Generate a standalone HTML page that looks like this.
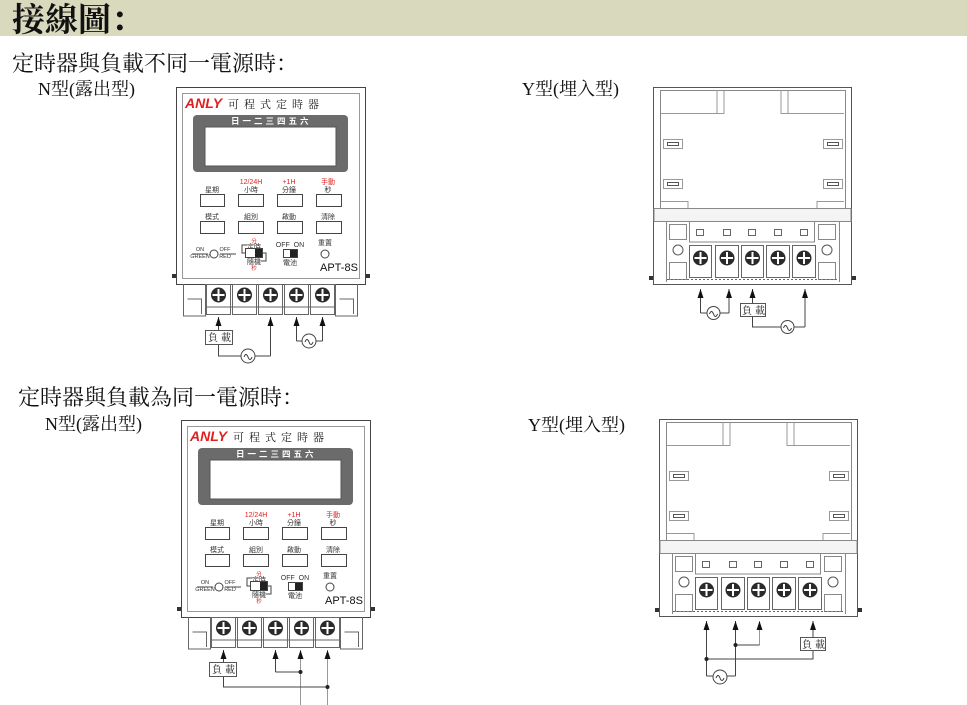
<!DOCTYPE html>
<html><head><meta charset="utf-8"><style>
html,body{margin:0;padding:0;background:#fff;width:967px;height:705px;overflow:hidden}
svg{display:block}
.s{font-family:"Liberation Serif","Noto Serif CJK SC","Noto Sans CJK TC",serif}
.c{font-family:"Noto Serif CJK SC","Noto Sans CJK TC",serif}
.k{font-family:"Liberation Sans","Noto Sans CJK TC",sans-serif}
</style></head><body>
<svg width="967" height="705" viewBox="0 0 967 705" xmlns="http://www.w3.org/2000/svg">
<rect x="0" y="0" width="967" height="36" fill="#d9d9bd"/>
<text x="12" y="31" class="c" font-size="33" font-weight="bold" fill="#111">接線圖：</text>
<text x="12" y="71" class="c" font-size="22" fill="#111">定時器與負載不同一電源時：</text>
<text x="38" y="95" class="s" font-size="18" fill="#111">N型(露出型)</text>
<text x="522" y="95" class="s" font-size="18" fill="#111">Y型(埋入型)</text>
<text x="18" y="405" class="c" font-size="22" fill="#111">定時器與負載為同一電源時：</text>
<text x="45" y="430" class="s" font-size="18" fill="#111">N型(露出型)</text>
<text x="528" y="431" class="s" font-size="18" fill="#111">Y型(埋入型)</text>

<!-- N device top -->
<g fill="none" stroke="#444" stroke-width="1">
<rect x="176.5" y="87.5" width="189" height="197" fill="#fff"/>
<rect x="182.5" y="93.5" width="177" height="185" stroke="#999"/>
<rect x="172" y="274" width="4" height="4" fill="#333" stroke="none"/>
<rect x="366" y="274" width="4" height="4" fill="#333" stroke="none"/>
<text x="185" y="108" class="k" font-size="14" font-weight="bold" font-style="italic" fill="#e02020" stroke="none">ANLY</text>
<text x="228" y="108" class="s" font-size="11" fill="#222" stroke="none" letter-spacing="5">可程式定時器</text>
<rect x="193" y="115" width="155" height="57" rx="4" fill="#6b6b6b" stroke="none"/>
<text x="231" y="124" class="k" font-size="8.5" font-weight="bold" fill="#fff" stroke="none" letter-spacing="3">日一二三四五六</text>
<rect x="205" y="127" width="131" height="39" fill="#fff" stroke="#555"/>
<g class="k" font-size="7" stroke="none" text-anchor="middle">
<text x="251" y="184" fill="#e02020">12/24H</text><text x="289" y="184" fill="#e02020">+1H</text><text x="328" y="184" fill="#e02020">手動</text>
<text x="212" y="192" fill="#333">星期</text><text x="251" y="192" fill="#333">小時</text><text x="289" y="192" fill="#333">分鐘</text><text x="328" y="192" fill="#333">秒</text>
<text x="212" y="219" fill="#333">模式</text><text x="251" y="219" fill="#333">組別</text><text x="289" y="219" fill="#333">啟動</text><text x="328" y="219" fill="#333">清除</text>
<text x="200" y="251" font-size="5.5" fill="#333">ON</text><text x="200" y="258" font-size="5.5" fill="#333">GREEN</text>
<text x="225" y="251" font-size="5.5" fill="#333">OFF</text><text x="225" y="258" font-size="5.5" fill="#333">RED</text>
<text x="254" y="243" font-size="5.5" fill="#e02020">分</text><text x="254" y="249" fill="#333">定時</text>
<text x="254" y="264" fill="#333">隨機</text><text x="254" y="270" font-size="5.5" fill="#e02020">秒</text>
<text x="290" y="247" fill="#333">OFF&#160;&#160;ON</text><text x="290" y="265" fill="#333">電池</text>
<text x="325" y="245" fill="#333">重置</text>
</g>
<rect x="200.5" y="194.5" width="24" height="12"/><rect x="238.5" y="194.5" width="25" height="12"/><rect x="277.5" y="194.5" width="25" height="12"/><rect x="316.5" y="194.5" width="25" height="12"/>
<rect x="200.5" y="221.5" width="24" height="12"/><rect x="238.5" y="221.5" width="25" height="12"/><rect x="277.5" y="221.5" width="25" height="12"/><rect x="316.5" y="221.5" width="25" height="12"/>
<line x1="192" y1="254" x2="208" y2="254"/><circle cx="214" cy="254" r="4"/><line x1="220" y1="254" x2="236" y2="254"/>
<rect x="245.5" y="248.5" width="17" height="9" fill="#fff"/><rect x="255" y="249" width="7" height="8" fill="#222" stroke="none"/>
<path d="M246 253 h-4 v-8 h5 M262 253 h4 v8 h-5"/>
<rect x="283.5" y="249.5" width="14" height="8" fill="#fff"/><rect x="290" y="250" width="7" height="7" fill="#222" stroke="none"/>
<circle cx="325" cy="254" r="4"/>
<text x="320" y="271" class="k" font-size="11" fill="#111" stroke="none">APT-8S</text>
<path d="M183.5 284 v32 h22 v-32 M335.5 284 v32 h22 v-32 M187.5 299 h14 v15 M339.5 299 h14 v15" stroke="#666"/>
<g stroke="#666">
<rect x="206.5" y="284.5" width="24" height="30"/><rect x="232.5" y="284.5" width="24" height="30"/><rect x="258.5" y="284.5" width="24" height="30"/><rect x="284.5" y="284.5" width="24" height="30"/><rect x="310.5" y="284.5" width="24" height="30"/>
<line x1="206" y1="307" x2="335" y2="307"/>
</g>
<g stroke="none" fill="#2a2a2a"><circle cx="218.5" cy="295" r="7.5"/><circle cx="244.5" cy="295" r="7.5"/><circle cx="270.5" cy="295" r="7.5"/><circle cx="296.5" cy="295" r="7.5"/><circle cx="322.5" cy="295" r="7.5"/></g>
<g stroke="#fff" stroke-width="2"><path d="M218.5 289v12M212.5 295h12M244.5 289v12M238.5 295h12M270.5 289v12M264.5 295h12M296.5 289v12M290.5 295h12M322.5 289v12M316.5 295h12"/></g>
</g>

<!-- N device bottom -->
<g transform="translate(5,333)" fill="none" stroke="#444" stroke-width="1">
<rect x="176.5" y="87.5" width="189" height="197" fill="#fff"/>
<rect x="182.5" y="93.5" width="177" height="185" stroke="#999"/>
<rect x="172" y="274" width="4" height="4" fill="#333" stroke="none"/>
<rect x="366" y="274" width="4" height="4" fill="#333" stroke="none"/>
<text x="185" y="108" class="k" font-size="14" font-weight="bold" font-style="italic" fill="#e02020" stroke="none">ANLY</text>
<text x="228" y="108" class="s" font-size="11" fill="#222" stroke="none" letter-spacing="5">可程式定時器</text>
<rect x="193" y="115" width="155" height="57" rx="4" fill="#6b6b6b" stroke="none"/>
<text x="231" y="124" class="k" font-size="8.5" font-weight="bold" fill="#fff" stroke="none" letter-spacing="3">日一二三四五六</text>
<rect x="205" y="127" width="131" height="39" fill="#fff" stroke="#555"/>
<g class="k" font-size="7" stroke="none" text-anchor="middle">
<text x="251" y="184" fill="#e02020">12/24H</text><text x="289" y="184" fill="#e02020">+1H</text><text x="328" y="184" fill="#e02020">手動</text>
<text x="212" y="192" fill="#333">星期</text><text x="251" y="192" fill="#333">小時</text><text x="289" y="192" fill="#333">分鐘</text><text x="328" y="192" fill="#333">秒</text>
<text x="212" y="219" fill="#333">模式</text><text x="251" y="219" fill="#333">組別</text><text x="289" y="219" fill="#333">啟動</text><text x="328" y="219" fill="#333">清除</text>
<text x="200" y="251" font-size="5.5" fill="#333">ON</text><text x="200" y="258" font-size="5.5" fill="#333">GREEN</text>
<text x="225" y="251" font-size="5.5" fill="#333">OFF</text><text x="225" y="258" font-size="5.5" fill="#333">RED</text>
<text x="254" y="243" font-size="5.5" fill="#e02020">分</text><text x="254" y="249" fill="#333">定時</text>
<text x="254" y="264" fill="#333">隨機</text><text x="254" y="270" font-size="5.5" fill="#e02020">秒</text>
<text x="290" y="247" fill="#333">OFF&#160;&#160;ON</text><text x="290" y="265" fill="#333">電池</text>
<text x="325" y="245" fill="#333">重置</text>
</g>
<rect x="200.5" y="194.5" width="24" height="12"/><rect x="238.5" y="194.5" width="25" height="12"/><rect x="277.5" y="194.5" width="25" height="12"/><rect x="316.5" y="194.5" width="25" height="12"/>
<rect x="200.5" y="221.5" width="24" height="12"/><rect x="238.5" y="221.5" width="25" height="12"/><rect x="277.5" y="221.5" width="25" height="12"/><rect x="316.5" y="221.5" width="25" height="12"/>
<line x1="192" y1="254" x2="208" y2="254"/><circle cx="214" cy="254" r="4"/><line x1="220" y1="254" x2="236" y2="254"/>
<rect x="245.5" y="248.5" width="17" height="9" fill="#fff"/><rect x="255" y="249" width="7" height="8" fill="#222" stroke="none"/>
<path d="M246 253 h-4 v-8 h5 M262 253 h4 v8 h-5"/>
<rect x="283.5" y="249.5" width="14" height="8" fill="#fff"/><rect x="290" y="250" width="7" height="7" fill="#222" stroke="none"/>
<circle cx="325" cy="254" r="4"/>
<text x="320" y="271" class="k" font-size="11" fill="#111" stroke="none">APT-8S</text>
<path d="M183.5 284 v32 h22 v-32 M335.5 284 v32 h22 v-32 M187.5 299 h14 v15 M339.5 299 h14 v15" stroke="#666"/>
<g stroke="#666">
<rect x="206.5" y="284.5" width="24" height="30"/><rect x="232.5" y="284.5" width="24" height="30"/><rect x="258.5" y="284.5" width="24" height="30"/><rect x="284.5" y="284.5" width="24" height="30"/><rect x="310.5" y="284.5" width="24" height="30"/>
<line x1="206" y1="307" x2="335" y2="307"/>
</g>
<g stroke="none" fill="#2a2a2a"><circle cx="218.5" cy="295" r="7.5"/><circle cx="244.5" cy="295" r="7.5"/><circle cx="270.5" cy="295" r="7.5"/><circle cx="296.5" cy="295" r="7.5"/><circle cx="322.5" cy="295" r="7.5"/></g>
<g stroke="#fff" stroke-width="2"><path d="M218.5 289v12M212.5 295h12M244.5 289v12M238.5 295h12M270.5 289v12M264.5 295h12M296.5 289v12M290.5 295h12M322.5 289v12M316.5 295h12"/></g>
</g>

<!-- Y device top -->
<g fill="none" stroke="#555" stroke-width="1">
<rect x="653.5" y="87.5" width="198" height="197" fill="#fff"/>
<path d="M660.5 90 v118 M845.5 90 v118 M660 90.5 h185" stroke="#888"/>
<path d="M661 113.5 h63 v-23 M717 113 v-23 M844 113.5 h-63 v-23 M788 113 v-23" stroke="#999"/>
<rect x="663.5" y="139.5" width="19" height="9" stroke="#999"/><rect x="667.5" y="142.5" width="11" height="3"/>
<rect x="663.5" y="179.5" width="19" height="9" stroke="#999"/><rect x="667.5" y="182.5" width="11" height="3"/>
<rect x="823.5" y="139.5" width="19" height="9" stroke="#999"/><rect x="827.5" y="142.5" width="11" height="3"/>
<rect x="823.5" y="179.5" width="19" height="9" stroke="#999"/><rect x="827.5" y="182.5" width="11" height="3"/>
<path d="M661 201.5 h27 v7 M844 201.5 h-27 v7" stroke="#999"/>
<rect x="654" y="208.5" width="197" height="13" fill="#f4f4f4" stroke="#888"/>
<path d="M666.5 222 v60 M839.5 222 v60 M689.5 222 v20 h125 v-20" stroke="#888"/>
<rect x="669.5" y="224.5" width="17" height="15" stroke="#888"/><rect x="669.5" y="262.5" width="17" height="17" stroke="#888"/>
<rect x="818.5" y="224.5" width="17" height="15" stroke="#888"/><rect x="818.5" y="262.5" width="17" height="17" stroke="#888"/>
<circle cx="678" cy="250" r="5"/><circle cx="827" cy="250" r="5"/>
<g stroke="#666">
<rect x="696.5" y="229.5" width="7" height="6"/><rect x="723.5" y="229.5" width="7" height="6"/><rect x="748.5" y="229.5" width="7" height="6"/><rect x="774.5" y="229.5" width="7" height="6"/><rect x="800.5" y="229.5" width="7" height="6"/>
<rect x="689.5" y="245.5" width="22" height="32"/><rect x="715.5" y="245.5" width="23" height="32"/><rect x="741.5" y="245.5" width="22" height="32"/><rect x="766.5" y="245.5" width="23" height="32"/><rect x="792.5" y="245.5" width="23" height="32"/>
<line x1="667" y1="279.5" x2="838" y2="279.5" stroke-dasharray="2 2"/>
</g>
<rect x="649" y="276" width="4" height="4" fill="#333" stroke="none"/><rect x="852" y="276" width="4" height="4" fill="#333" stroke="none"/>
<g stroke="none" fill="#2a2a2a"><circle cx="700.5" cy="258" r="7.5"/><circle cx="727" cy="258" r="7.5"/><circle cx="752.5" cy="258" r="7.5"/><circle cx="778" cy="258" r="7.5"/><circle cx="804" cy="258" r="7.5"/></g>
<g stroke="#fff" stroke-width="2"><path d="M700.5 252v12M694.5 258h12M727 252v12M721 258h12M752.5 252v12M746.5 258h12M778 252v12M772 258h12M804 252v12M798 258h12"/></g>
</g>

<!-- Y device bottom -->
<g transform="translate(6,332)" fill="none" stroke="#555" stroke-width="1">
<rect x="653.5" y="87.5" width="198" height="197" fill="#fff"/>
<path d="M660.5 90 v118 M845.5 90 v118 M660 90.5 h185" stroke="#888"/>
<path d="M661 113.5 h63 v-23 M717 113 v-23 M844 113.5 h-63 v-23 M788 113 v-23" stroke="#999"/>
<rect x="663.5" y="139.5" width="19" height="9" stroke="#999"/><rect x="667.5" y="142.5" width="11" height="3"/>
<rect x="663.5" y="179.5" width="19" height="9" stroke="#999"/><rect x="667.5" y="182.5" width="11" height="3"/>
<rect x="823.5" y="139.5" width="19" height="9" stroke="#999"/><rect x="827.5" y="142.5" width="11" height="3"/>
<rect x="823.5" y="179.5" width="19" height="9" stroke="#999"/><rect x="827.5" y="182.5" width="11" height="3"/>
<path d="M661 201.5 h27 v7 M844 201.5 h-27 v7" stroke="#999"/>
<rect x="654" y="208.5" width="197" height="13" fill="#f4f4f4" stroke="#888"/>
<path d="M666.5 222 v60 M839.5 222 v60 M689.5 222 v20 h125 v-20" stroke="#888"/>
<rect x="669.5" y="224.5" width="17" height="15" stroke="#888"/><rect x="669.5" y="262.5" width="17" height="17" stroke="#888"/>
<rect x="818.5" y="224.5" width="17" height="15" stroke="#888"/><rect x="818.5" y="262.5" width="17" height="17" stroke="#888"/>
<circle cx="678" cy="250" r="5"/><circle cx="827" cy="250" r="5"/>
<g stroke="#666">
<rect x="696.5" y="229.5" width="7" height="6"/><rect x="723.5" y="229.5" width="7" height="6"/><rect x="748.5" y="229.5" width="7" height="6"/><rect x="774.5" y="229.5" width="7" height="6"/><rect x="800.5" y="229.5" width="7" height="6"/>
<rect x="689.5" y="245.5" width="22" height="32"/><rect x="715.5" y="245.5" width="23" height="32"/><rect x="741.5" y="245.5" width="22" height="32"/><rect x="766.5" y="245.5" width="23" height="32"/><rect x="792.5" y="245.5" width="23" height="32"/>
<line x1="667" y1="279.5" x2="838" y2="279.5" stroke-dasharray="2 2"/>
</g>
<rect x="649" y="276" width="4" height="4" fill="#333" stroke="none"/><rect x="852" y="276" width="4" height="4" fill="#333" stroke="none"/>
<g stroke="none" fill="#2a2a2a"><circle cx="700.5" cy="258" r="7.5"/><circle cx="727" cy="258" r="7.5"/><circle cx="752.5" cy="258" r="7.5"/><circle cx="778" cy="258" r="7.5"/><circle cx="804" cy="258" r="7.5"/></g>
<g stroke="#fff" stroke-width="2"><path d="M700.5 252v12M694.5 258h12M727 252v12M721 258h12M752.5 252v12M746.5 258h12M778 252v12M772 258h12M804 252v12M798 258h12"/></g>
</g>

<!-- wiring -->
<defs><marker id="a" markerWidth="9" markerHeight="6" refX="9" refY="3" orient="auto" markerUnits="userSpaceOnUse"><path d="M0 0 L9 3 L0 6 Z" fill="#111"/></marker></defs>
<g fill="none" stroke="#444" stroke-width="1">
<path d="M218.5 330 V317" marker-end="url(#a)"/>
<path d="M270.5 356 V317" marker-end="url(#a)"/>
<path d="M296.5 341 V317" marker-end="url(#a)"/>
<path d="M322.5 341 V317" marker-end="url(#a)"/>
<path d="M218.5 344 V356 H241 M255 356 H270.5"/>
<circle cx="248" cy="356" r="7" fill="#fff"/>
<path d="M296.5 341 H302 M316 341 H322.5"/>
<circle cx="309" cy="341" r="7" fill="#fff"/>
<path d="M700.5 313 V289" marker-end="url(#a)"/>
<path d="M729 313 V289" marker-end="url(#a)"/>
<path d="M752.5 303 V289" marker-end="url(#a)"/>
<path d="M805 327 V289" marker-end="url(#a)"/>
<path d="M700.5 313 H707 M720 313 H729"/>
<circle cx="713.5" cy="313" r="6.5" fill="#fff"/>
<path d="M752.5 316 V327 H781 M794 327 H805"/>
<circle cx="787.5" cy="327" r="6.5" fill="#fff"/>
<path d="M223.5 662 V650" marker-end="url(#a)"/>
<path d="M275.5 672 V650" marker-end="url(#a)"/>
<path d="M300.5 705 V650" marker-end="url(#a)" stroke="#999"/>
<path d="M327.5 705 V650" marker-end="url(#a)" stroke="#999"/>
<path d="M275.5 672 H300.5 M223.5 677 V687 H327.5"/>
<path d="M706.5 676 V621" marker-end="url(#a)"/>
<path d="M735.5 676 V621" marker-end="url(#a)"/>
<path d="M759.5 645 V621" marker-end="url(#a)" stroke="#999"/>
<path d="M813 637 V621" marker-end="url(#a)"/>
<path d="M759.5 645 H735.5 M813 651 V659 H706.5 M706.5 676 H713 M727 676 H735.5"/>
<circle cx="720" cy="677" r="7" fill="#fff"/>
</g>
<g fill="#222"><circle cx="300.5" cy="672" r="2"/><circle cx="327.5" cy="687" r="2"/><circle cx="735.5" cy="645" r="2"/><circle cx="706.5" cy="659" r="2"/></g>
<g fill="none" stroke="#333" stroke-width="1">
<path d="M244 357 q2-5 4 0 t4 0"/><path d="M305 342 q2-5 4 0 t4 0"/>
<path d="M709.5 314 q2-5 4 0 t4 0"/><path d="M783.5 328 q2-5 4 0 t4 0"/>
<path d="M716 678 q2-5 4 0 t4 0"/>
</g>
<g class="s" font-size="10" fill="#222">
<rect x="205.5" y="330.5" width="27" height="14" fill="#fff" stroke="#555"/><text x="208" y="341" letter-spacing="3">負載</text>
<rect x="740.5" y="303.5" width="25" height="13" fill="#fff" stroke="#555"/><text x="742" y="314" letter-spacing="3">負載</text>
<rect x="209.5" y="662.5" width="27" height="14" fill="#fff" stroke="#555"/><text x="212" y="673" letter-spacing="3">負載</text>
<rect x="800.5" y="637.5" width="25" height="13" fill="#fff" stroke="#555"/><text x="802" y="648" letter-spacing="3">負載</text>
</g>
</svg>
</body></html>
